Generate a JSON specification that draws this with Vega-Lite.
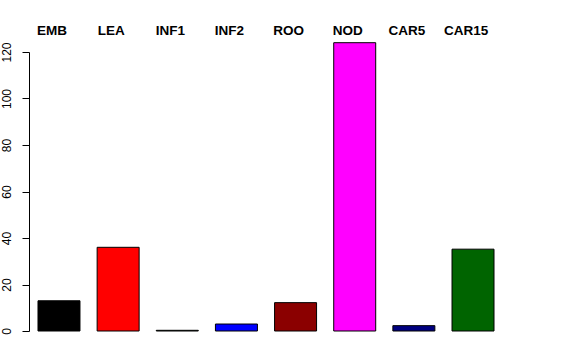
{
  "$schema": "https://vega.github.io/schema/vega-lite/v6.json",
  "autosize": {"type": "none"},
  "padding": {"left": 29, "top": 52, "right": 0, "bottom": 29},
  "width": 474,
  "height": 279,
  "background": "white",
  "config": {"view": {"stroke": null}, "font": "Liberation Sans"},
  "data": {"values": [
    {"tissue": "EMB", "value": 13, "color": "#000000"},
    {"tissue": "LEA", "value": 36, "color": "#ff0000"},
    {"tissue": "INF1", "value": 0.3, "color": "#2f4f2f"},
    {"tissue": "INF2", "value": 3, "color": "#0000ff"},
    {"tissue": "ROO", "value": 12.2, "color": "#8b0000"},
    {"tissue": "NOD", "value": 124, "color": "#ff00ff"},
    {"tissue": "CAR5", "value": 2.3, "color": "#000080"},
    {"tissue": "CAR15", "value": 35.2, "color": "#006400"}
  ]},
  "mark": {"type": "bar", "stroke": "black", "strokeWidth": 1, "clip": false},
  "encoding": {
    "x": {
      "field": "tissue", "type": "nominal", "sort": null,
      "scale": {"paddingInner": 0.29, "paddingOuter": 0.152},
      "axis": {"orient": "top", "title": null, "domain": false, "ticks": false,
        "labelAngle": 0, "labelFontWeight": "bold", "labelFontSize": 13.5,
        "labelColor": "black", "labelBaseline": "alphabetic", "labelPadding": 18, "labelOffset": -7}
    },
    "y": {
      "field": "value", "type": "quantitative",
      "scale": {"domain": [0, 120], "nice": false, "zero": true},
      "axis": {"title": null, "grid": false, "values": [0, 20, 40, 60, 80, 100, 120],
        "tickSize": 7, "tickColor": "black", "domainColor": "black",
        "labelAngle": -90, "labelAlign": "center", "labelBaseline": "bottom",
        "labelPadding": 9, "labelFontSize": 12, "labelColor": "black", "labelFont": "Liberation Sans"}
    },
    "fill": {"field": "color", "type": "nominal", "scale": null}
  }
}
